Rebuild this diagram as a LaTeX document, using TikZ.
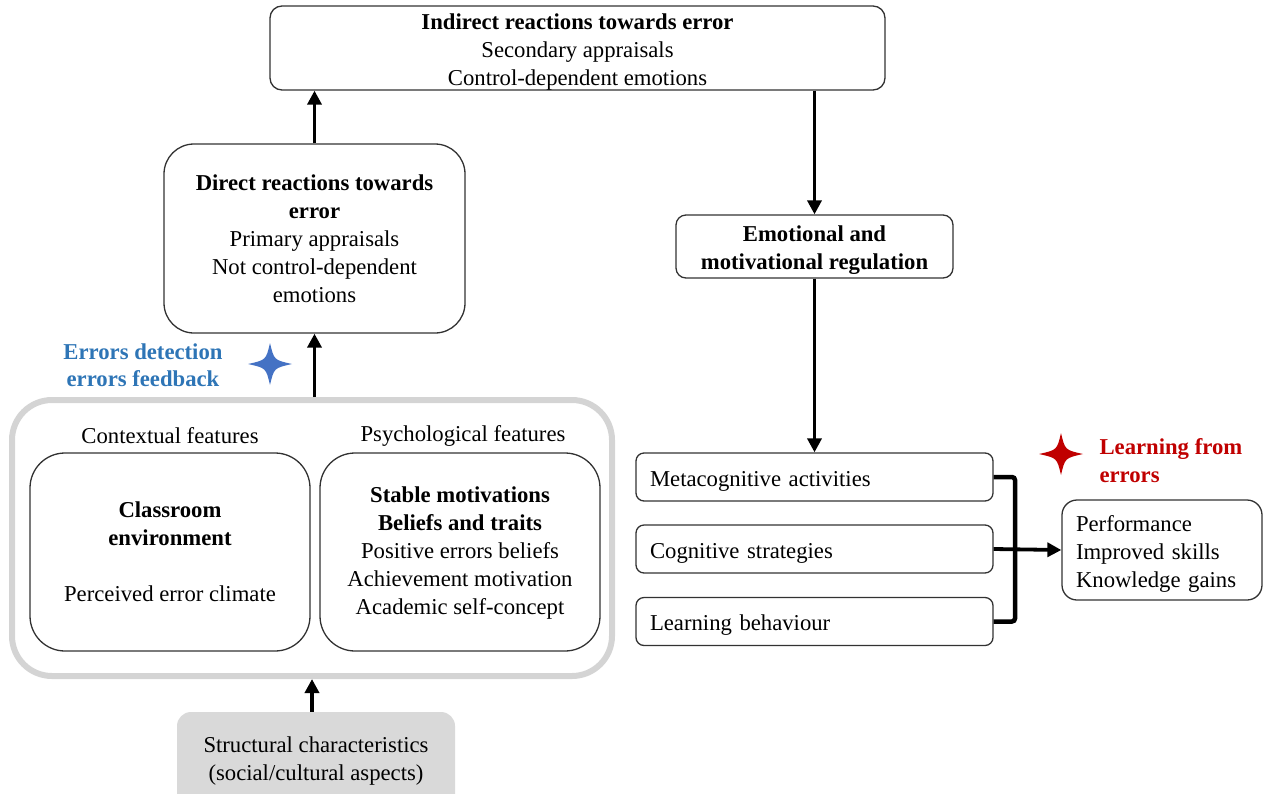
\documentclass[tikz,border=0pt]{standalone}
\usepackage{fontspec}
\setmainfont{Liberation Serif}
\usetikzlibrary{arrows.meta,positioning}
\definecolor{hintblue}{RGB}{46,117,182}
\definecolor{starblue}{RGB}{68,114,196}
\definecolor{hintred}{RGB}{192,0,0}
\definecolor{framegray}{RGB}{212,212,212}
\definecolor{fillgray}{RGB}{217,217,217}
\definecolor{edge}{RGB}{50,50,50}
% taller first line, pushes the text block a little lower in its box
\newcommand\firstline{\rule{0pt}{23pt}}
\tikzset{
  box/.style={draw=edge, line width=1.3pt, align=center, inner sep=0pt},
  listbox/.style={draw=edge, line width=1.3pt, rounded corners=8pt, align=left,
    text width=329pt, inner xsep=14pt, inner ysep=0pt, minimum height=48pt},
  arr/.style={line width=3.8pt, -{Triangle[length=14pt,width=14pt]}},
  bracket/.style={line width=4.5pt, rounded corners=3pt},
  fourstar/.pic={
    \fill (0,-21) .. controls (4,-4) .. (22,0) .. controls (4,4) .. (0,21)
      .. controls (-4,4) .. (-22,0) .. controls (-4,-4) .. cycle;
  }
}
\begin{document}
\begin{tikzpicture}[x=1pt,y=-1pt,font=\fontsize{22.7}{28}\selectfont]
\useasboundingbox (0,0) rectangle (1263,793);

% left column
\node[box, rounded corners=12pt, minimum width=615pt, minimum height=84pt] (indirect) at (577.5,48)
  {\firstline\textbf{Indirect reactions towards error}\\ Secondary appraisals\\ Control-dependent emotions};
\node[box, rounded corners=30pt, minimum width=301pt, minimum height=189pt] (direct) at (314.5,238.5)
  {\textbf{Direct reactions towards}\\ \textbf{error}\\ Primary appraisals\\ Not control-dependent\\ emotions};

\node[draw=framegray, line width=6pt, rounded corners=40pt, minimum width=600pt, minimum height=276pt] (frame) at (312,538) {};
\node (ctxlabel) at (170,436) {Contextual features};
\node (psylabel) at (463,436) {Psychological features};
\node[box, rounded corners=35pt, minimum width=280pt, minimum height=198pt] (context) at (170,552)
  {\textbf{Classroom}\\ \textbf{environment}\\[28pt] Perceived error climate};
\node[box, rounded corners=35pt, minimum width=280pt, minimum height=198pt] (psych) at (460,552)
  {\rule{0pt}{18pt}\textbf{Stable motivations}\\ \textbf{Beliefs and traits}\\ Positive errors beliefs\\ Achievement motivation\\ Academic self-concept};

\node[fill=fillgray, rounded corners=14pt, minimum width=278pt, minimum height=98pt, align=center, inner sep=0pt] (struct) at (316,761)
  {\raisebox{3pt}{\begin{tabular}{@{}c@{}}Structural characteristics\\[0pt](social/cultural aspects)\end{tabular}}};

\node[text=hintblue, align=center, font=\fontsize{22.7}{27}\selectfont\bfseries] (detect) at (143,365)
  {Errors detection\\ errors feedback};
\pic[starblue] at (270,364) {fourstar};

% right column
\node[box, rounded corners=10pt, minimum width=277pt, minimum height=63pt] (regul) at (814.5,246.5)
  {\firstline\textbf{Emotional and}\\ \textbf{motivational regulation}};
\node[listbox] (meta) at (814.5,477) {\firstline Metacognitive activities};
\node[listbox] (cog) at (814.5,549) {\firstline Cognitive strategies};
\node[listbox] (learn) at (814.5,621.5) {\firstline Learning behaviour};
\node[draw=edge, line width=1.3pt, rounded corners=15pt, align=left, text width=172pt,
  inner xsep=14pt, inner ysep=0pt, minimum height=100pt] (perf) at (1162,550)
  {\firstline Performance\\ Improved skills\\ Knowledge gains};
\node[text=hintred, align=left, anchor=west, font=\fontsize{22.7}{28}\selectfont\bfseries] (lfe) at (1096,461)
  {Learning from\\ errors};
\pic[hintred] at (1061,454) {fourstar};

% connectors
\draw[arr] (frame.south |- struct.north) -- (frame.south);
\draw[arr] (direct.south |- frame.north) -- (direct.south);
\draw[arr] (direct.north) -- (direct.north |- indirect.south);
\draw[arr] (regul.north |- indirect.south) -- (regul.north);
\draw[arr] (regul.south) -- (meta.north);
\coordinate (join) at (1015,550);
\draw[bracket] (meta.east) -| (join) |- (learn.east);
\draw[arr] (cog.east) -- (perf.west);
\end{tikzpicture}
\end{document}
